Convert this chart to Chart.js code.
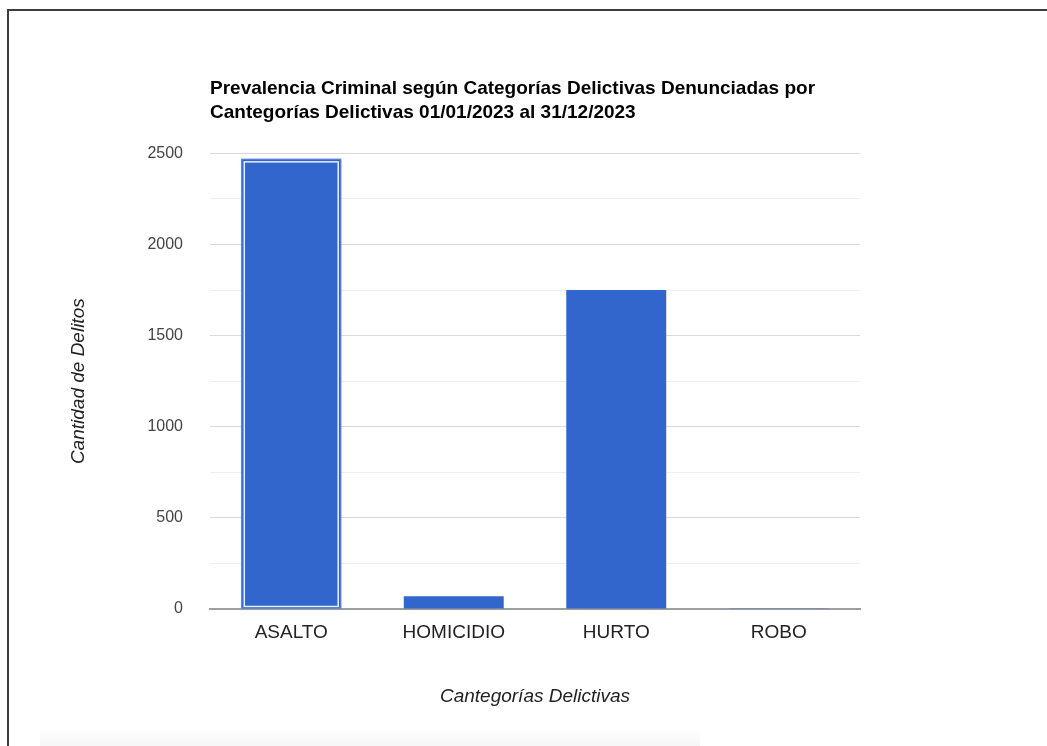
<!DOCTYPE html>
<html>
<head>
<meta charset="utf-8">
<script src="https://cdn.jsdelivr.net/npm/chart.js@4"></script>
<style>
  body { margin: 0; background: #fff; }
  #wrap { position: relative; width: 1047px; height: 746px; overflow: hidden; }
  #frame { position: absolute; left: 7px; top: 9px; width: 1100px; height: 800px;
           border-left: 2px solid #3c3c3c; border-top: 2px solid #3c3c3c; }
  #shade { position: absolute; left: 40px; top: 728px; width: 660px; height: 18px;
           background: linear-gradient(to bottom, rgba(0,0,0,0), rgba(0,0,0,0.035)); }
  canvas { position: absolute; left: 0; top: 0; }
</style>
</head>
<body>
<div id="wrap">
  <div id="frame"></div>
  <div id="shade"></div>
  <canvas id="delitosChart" width="1047" height="746"></canvas>
</div>
<script>
// Datos
const categorias = ["ASALTO", "HOMICIDIO", "HURTO", "ROBO"];
const cantidades = [2470, 70, 1750, 4];
const ticksY = [0, 500, 1000, 1500, 2000, 2500];

const fuente = "'Liberation Sans', Arial, sans-serif";

// contorno de seleccion sobre la primera barra
const seleccion = {
  id: "seleccion",
  afterDatasetsDraw(chart) {
    const bar = chart.getDatasetMeta(0).data[0];
    if (!bar) return;
    const { x, y, base, width } = bar.getProps(["x", "y", "base", "width"], true);
    const ctx = chart.ctx;
    ctx.save();
    ctx.strokeStyle = "rgba(255,255,255,0.9)";
    ctx.lineWidth = 1.5;
    ctx.strokeRect(x - width / 2 + 3, y + 3, width - 6, base - y - 5);
    ctx.strokeStyle = "#5d84d6";
    ctx.lineWidth = 1;
    ctx.strokeRect(x - width / 2 + 0.5, y + 0.5, width - 1, base - y - 1);
    ctx.restore();
  }
};

document.addEventListener("DOMContentLoaded", () => {
  const ctx = document.getElementById("delitosChart").getContext("2d");

  new Chart(ctx, {
    type: "bar",
    data: {
      labels: categorias,
      datasets: [
        {
          label: "Cantidad de Delitos",
          data: cantidades,
          backgroundColor: "#3366cc",
          borderWidth: 0,
          categoryPercentage: 1,
          barPercentage: 0.615,
        },
      ],
    },
    options: {
      responsive: false,
      animation: false,
      layout: { padding: { left: 60, right: 187, top: 70, bottom: 27 } },
      plugins: {
        legend: { display: false },
        tooltip: { enabled: false },
        title: {
          display: true,
          text: [
            "Prevalencia Criminal según Categorías Delictivas Denunciadas por",
            "Cantegorías Delictivas 01/01/2023 al 31/12/2023",
          ],
          align: "start",
          fullSize: false,
          color: "#000",
          font: { family: fuente, size: 19, weight: "bold", lineHeight: 1.3 },
          padding: { top: 6, bottom: 28 },
        },
      },
      scales: {
        x: {
          grid: { display: false, drawTicks: false },
          border: { display: true, color: "#9e9e9e", width: 2 },
          ticks: { color: "#222", font: { family: fuente, size: 19 }, padding: 12 },
          title: {
            display: true,
            text: "Cantegorías Delictivas",
            color: "#222",
            font: { family: fuente, size: 19, style: "italic" },
            padding: { top: 0, bottom: 11 },
          },
          afterFit: (scale) => { scale.height = 110; },
        },
        y: {
          min: 0,
          max: 2500,
          grid: {
            drawTicks: false,
            color: (c) => (c.tick && ticksY.includes(c.tick.value) ? "#d9d9d9" : "#eeeeee"),
            lineWidth: 1,
          },
          border: { display: false },
          ticks: {
            stepSize: 250,
            padding: 27,
            color: "#444",
            font: { family: fuente, size: 16 },
            callback: (v) => (ticksY.includes(v) ? String(v) : ""),
          },
          title: {
            display: true,
            text: "Cantidad de Delitos",
            color: "#222",
            font: { family: fuente, size: 19, style: "italic" },
            padding: { top: 7, bottom: 0 },
          },
          afterFit: (scale) => { scale.width = 150; },
        },
      },
    },
    plugins: [seleccion],
  });
});
</script>
</body>
</html>
